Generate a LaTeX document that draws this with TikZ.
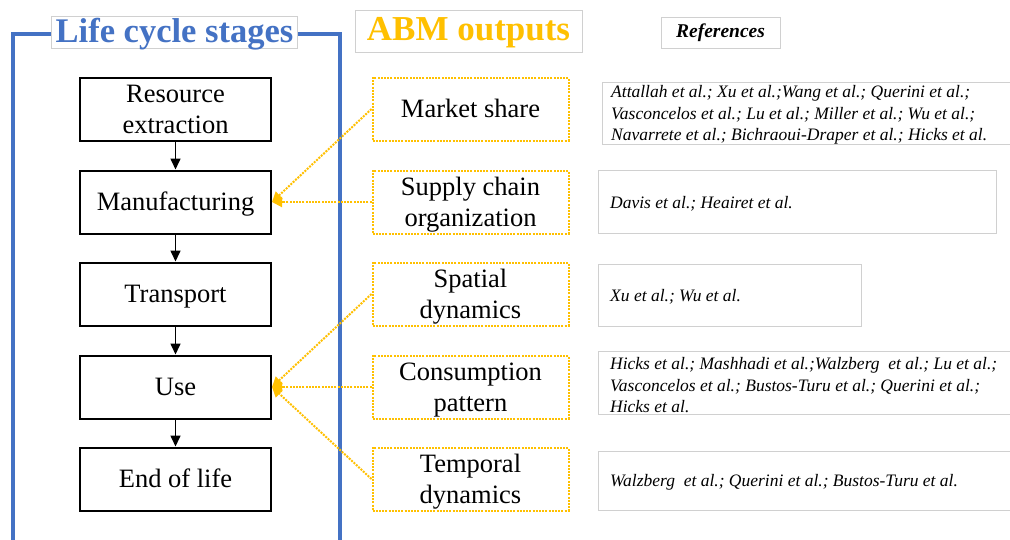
\documentclass[tikz,border=0pt]{standalone}
\usepackage{fontspec}
\setmainfont{Liberation Serif}
\usetikzlibrary{arrows.meta}
\definecolor{lcblue}{HTML}{4472C4}
\definecolor{abmorange}{HTML}{FFC000}
\definecolor{refgray}{HTML}{D0D0D0}
\begin{document}
\begin{tikzpicture}[x=1pt,y=-1pt,
  stage/.style={draw=black,line width=2pt,minimum width=191pt,minimum height=63pt,align=center,inner sep=0pt,font=\fontsize{26.5}{31}\selectfont,text height=17.5pt,text depth=0pt},
  output/.style={draw=abmorange,line width=2pt,dash pattern=on 2pt off 1.2pt,minimum width=196pt,minimum height=63pt,align=center,inner sep=0pt,font=\fontsize{26.5}{31}\selectfont,text height=17.5pt,text depth=0pt},
  twoline/.style={text height=48.5pt,text depth=0pt},
  flow/.style={-{Triangle[length=11pt,width=10pt]},line width=1.6pt},
  link/.style={abmorange,line width=2pt,dash pattern=on 2pt off 1.2pt,-{Triangle[length=10pt,width=10pt]}},
  refbox/.style={refgray,line width=1pt},
  reftext/.style={anchor=west,align=left,inner sep=0pt,font=\fontsize{17.5}{21.5}\selectfont\itshape},
  titlebox/.style={fill=white,draw=refgray,line width=0.8pt,inner sep=0pt}
]
\useasboundingbox[fill=white] (0,0) rectangle (1010,539);

% blue frame
\draw[lcblue,line width=4pt] (13,545) -- (13,34) -- (340,34) -- (340,545);

% titles
\node[titlebox,minimum width=246pt,minimum height=32pt,text=lcblue,font=\fontsize{34.5}{36}\selectfont\bfseries,text height=22.8pt,text depth=1pt] (lctitle) at (174.5,32) {Life cycle stages};
\node[titlebox,minimum width=227pt,minimum height=42pt,text=abmorange,font=\fontsize{35}{36}\selectfont\bfseries,text height=23.2pt,text depth=3.5pt] (abmtitle) at (468.5,31) {ABM outputs};
\node[titlebox,minimum width=119pt,minimum height=31pt,font=\fontsize{19.5}{21}\selectfont\bfseries\itshape,text height=12.9pt,text depth=3pt] (reftitle) at (720.5,32.5) {References};

% life cycle stages
\node[stage,twoline] (s1) at (175.5,109) {Resource\\extraction};
\node[stage] (s2) at (175.5,202) {Manufacturing};
\node[stage] (s3) at (175.5,294) {Transport};
\node[stage] (s4) at (175.5,387) {Use};
\node[stage] (s5) at (175.5,479) {End of life};
\draw[flow] (s1) -- (s2);
\draw[flow] (s2) -- (s3);
\draw[flow] (s3) -- (s4);
\draw[flow] (s4) -- (s5);

% ABM outputs
\node[output] (o1) at (470.5,109) {Market share};
\node[output,twoline] (o2) at (470.5,202) {Supply chain\\organization};
\node[output,twoline] (o3) at (470.5,294) {Spatial\\dynamics};
\node[output,twoline] (o4) at (470.5,387) {Consumption\\pattern};
\node[output,twoline] (o5) at (470.5,479) {Temporal\\dynamics};
\draw[link] (o1.west) -- (s2.east);
\draw[link] (o2.west) -- (s2.east);
\draw[link] (o3.west) -- (s4.east);
\draw[link] (o4.west) -- (s4.east);
\draw[link] (o5.west) -- (s4.east);

% reference boxes
\draw[refbox] (1012,82) -- (602,82) -- (602,144) -- (1012,144);
\draw[refbox] (598,170) rectangle (996,233);
\draw[refbox] (598,264) rectangle (861,326);
\draw[refbox] (1012,351) -- (598,351) -- (598,414) -- (1012,414);
\draw[refbox] (1012,451) -- (598,451) -- (598,510) -- (1012,510);

\node[reftext] (r1) at (611,115) {Attallah et al.; Xu et al.;Wang et al.; Querini et al.;\\Vasconcelos et al.; Lu et al.; Miller et al.; Wu et al.;\\Navarrete et al.; Bichraoui-Draper et al.; Hicks et al.};
\node[reftext] (r2) at (610,204) {Davis et al.; Heairet et al.};
\node[reftext] (r3) at (610,297) {Xu et al.; Wu et al.};
\node[reftext] (r4) at (610,385.5) {Hicks et al.; Mashhadi et al.;Walzberg\ \ et al.; Lu et al.;\\Vasconcelos et al.; Bustos-Turu et al.; Querini et al.;\\Hicks et al.};
\node[reftext] (r5) at (610,482) {Walzberg\ \ et al.; Querini et al.; Bustos-Turu et al.};
\end{tikzpicture}
\end{document}
